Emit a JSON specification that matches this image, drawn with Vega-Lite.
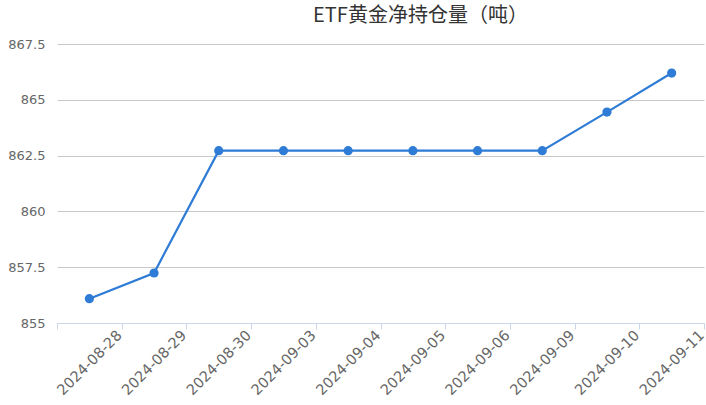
{
  "$schema": "https://vega.github.io/schema/vega-lite/v6.json",
  "autosize": "none",
  "width": 647,
  "height": 279,
  "padding": {"left": 57, "top": 44, "right": 2, "bottom": 82},
  "background": "white",
  "title": {
    "text": "ETF黄金净持仓量（吨）",
    "font": "Noto Sans CJK SC",
    "fontSize": 20,
    "fontWeight": "normal",
    "color": "#333333",
    "anchor": "middle",
    "dx": 40,
    "baseline": "alphabetic",
    "offset": -4
  },
  "config": {
    "view": {"stroke": null},
    "axis": {"labelFont": "DejaVu Sans", "labelColor": "#666666", "labelFontSize": 13}
  },
  "data": {
    "values": [
      {"date": "2024-08-28", "tonnes": 856.09},
      {"date": "2024-08-29", "tonnes": 857.24},
      {"date": "2024-08-30", "tonnes": 862.72},
      {"date": "2024-09-03", "tonnes": 862.72},
      {"date": "2024-09-04", "tonnes": 862.72},
      {"date": "2024-09-05", "tonnes": 862.72},
      {"date": "2024-09-06", "tonnes": 862.72},
      {"date": "2024-09-09", "tonnes": 862.72},
      {"date": "2024-09-10", "tonnes": 864.45},
      {"date": "2024-09-11", "tonnes": 866.2}
    ]
  },
  "encoding": {
    "x": {
      "field": "date",
      "type": "ordinal",
      "sort": null,
      "title": null,
      "scale": {"type": "band", "paddingInner": 0, "paddingOuter": 0},
      "axis": {
        "domainColor": "#ccd6eb",
        "tickColor": "#ccd6eb",
        "tickBand": "extent",
        "tickSize": 6,
        "grid": false,
        "labelAngle": -45,
        "labelAlign": "right",
        "labelBaseline": "middle",
        "labelOffset": 30,
        "labelPadding": 4,
        "labelFontSize": 14.5
      }
    },
    "y": {
      "field": "tonnes",
      "type": "quantitative",
      "title": null,
      "scale": {"domain": [855, 867.5], "zero": false, "nice": false},
      "axis": {
        "values": [855, 857.5, 860, 862.5, 865, 867.5],
        "format": ".1~f",
        "domain": false,
        "ticks": false,
        "gridColor": "#c8c8c8",
        "gridWidth": 1,
        "labelPadding": 12,
        "labelFontSize": 13
      }
    }
  },
  "layer": [
    {"mark": {"type": "line", "color": "#2f7cd6", "strokeWidth": 2.2}},
    {"mark": {"type": "point", "filled": true, "opacity": 1, "color": "#2f7cd6", "size": 85}}
  ]
}
